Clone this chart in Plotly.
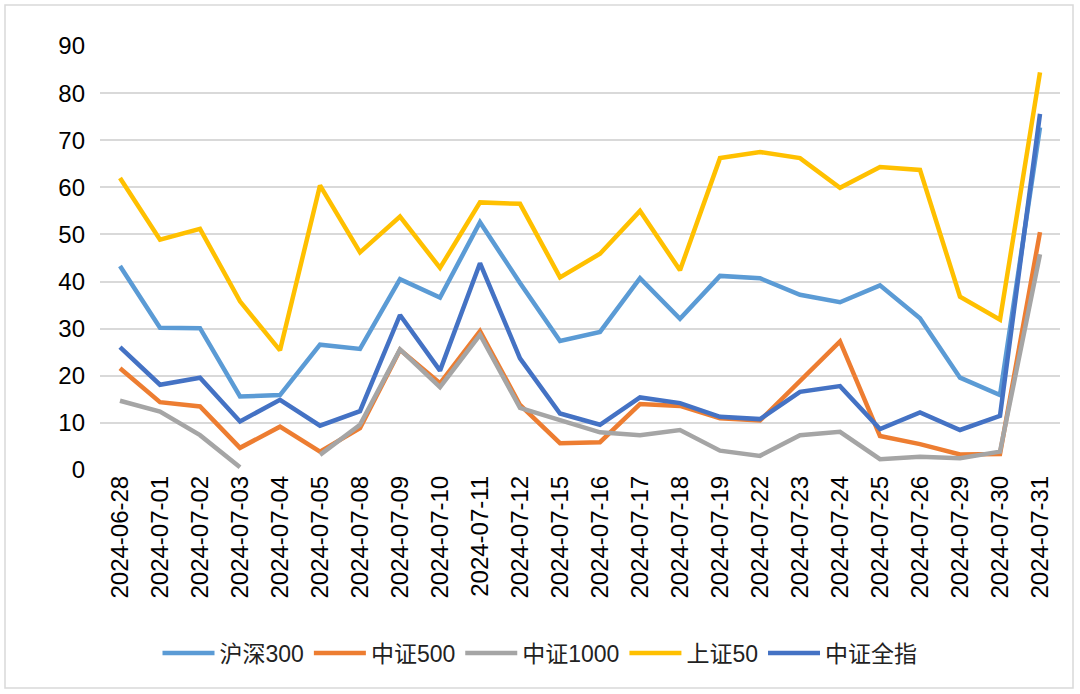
import plotly.graph_objects as go

dates = ["2024-06-28", "2024-07-01", "2024-07-02", "2024-07-03", "2024-07-04", "2024-07-05",
         "2024-07-08", "2024-07-09", "2024-07-10", "2024-07-11", "2024-07-12", "2024-07-15",
         "2024-07-16", "2024-07-17", "2024-07-18", "2024-07-19", "2024-07-22", "2024-07-23",
         "2024-07-24", "2024-07-25", "2024-07-26", "2024-07-29", "2024-07-30", "2024-07-31"]

hs300 = [43.3, 30.2, 30.1, 15.6, 15.9, 26.6, 25.7, 40.5, 36.6, 52.6, 39.7, 27.4,
         29.3, 40.7, 32.1, 41.2, 40.7, 37.2, 35.6, 39.2, 32.2, 19.6, 15.9, 72.7]
zz500 = [21.6, 14.4, 13.5, 4.7, 9.2, 3.9, 8.9, 25.5, 18.4, 29.5, 13.8, 5.7,
         5.9, 14.0, 13.6, 11.0, 10.5, 18.8, 27.3, 7.2, 5.5, 3.3, 3.4, 50.5]
zz1000 = [14.7, 12.4, 7.4, 0.6, None, 3.2, 9.6, 25.6, 17.6, 28.7, 13.2, 10.6,
          8.0, 7.4, 8.5, 4.1, 3.0, 7.4, 8.1, 2.3, 2.8, 2.5, 3.9, 45.8]
sz50 = [62.0, 48.9, 51.2, 35.8, 25.4, 60.4, 46.2, 53.8, 42.9, 56.8, 56.5, 40.9,
        45.9, 55.0, 42.4, 66.2, 67.5, 66.2, 59.9, 64.3, 63.7, 36.8, 31.9, 84.4]
zzqz = [26.1, 18.1, 19.6, 10.3, 14.9, 9.4, 12.5, 32.9, 21.1, 43.9, 23.7, 12.0,
        9.6, 15.4, 14.2, 11.3, 10.8, 16.6, 17.8, 8.7, 12.2, 8.5, 11.5, 75.6]

series = [("沪深300", hs300, "#5B9BD5"),
          ("中证500", zz500, "#ED7D31"),
          ("中证1000", zz1000, "#A5A5A5"),
          ("上证50", sz50, "#FFC000"),
          ("中证全指", zzqz, "#4472C4")]

FONT = "Helvetica, Arial, 'Liberation Sans', 'Noto Sans CJK SC', sans-serif"

fig = go.Figure()
for name, vals, color in series:
    fig.add_trace(go.Scatter(x=dates, y=vals, name=name, mode="lines",
                             line=dict(color=color, width=4.5),
                             connectgaps=False))

fig.update_layout(
    width=1080, height=694,
    paper_bgcolor="white", plot_bgcolor="white",
    margin=dict(l=100, r=20, t=46, b=224, autoexpand=False),
    font=dict(family=FONT, size=24, color="#000000"),
    showlegend=True,
    legend=dict(orientation="h", xref="container", x=0.5, xanchor="center",
                yref="container", y=0.059, yanchor="middle",
                font=dict(family=FONT, size=23, color="#222222"),
                itemwidth=52, tracegroupgap=0),
    xaxis=dict(type="category", range=[-0.5, 23.5], tickangle=-90,
               showgrid=False, showline=False, ticks="", automargin=False,
               tickfont=dict(size=24, color="#000000")),
    yaxis=dict(range=[0, 90], dtick=10, showgrid=True, gridcolor="#D9D9D9",
               gridwidth=1.5, zeroline=False, showline=False, ticks="",
               ticklabelstandoff=14, automargin=False,
               tickfont=dict(size=24, color="#000000")),
    shapes=[dict(type="rect", xref="paper", yref="paper",
                 x0=(5 - 100) / 960, x1=(1073 - 100) / 960,
                 y0=(470 - 688) / 424, y1=(470 - 5) / 424,
                 line=dict(color="#D9D9D9", width=1.5), layer="below")],
)

fig.write_html("out.html", config={"displayModeBar": False},
               post_script="document.body.style.margin='0';")
